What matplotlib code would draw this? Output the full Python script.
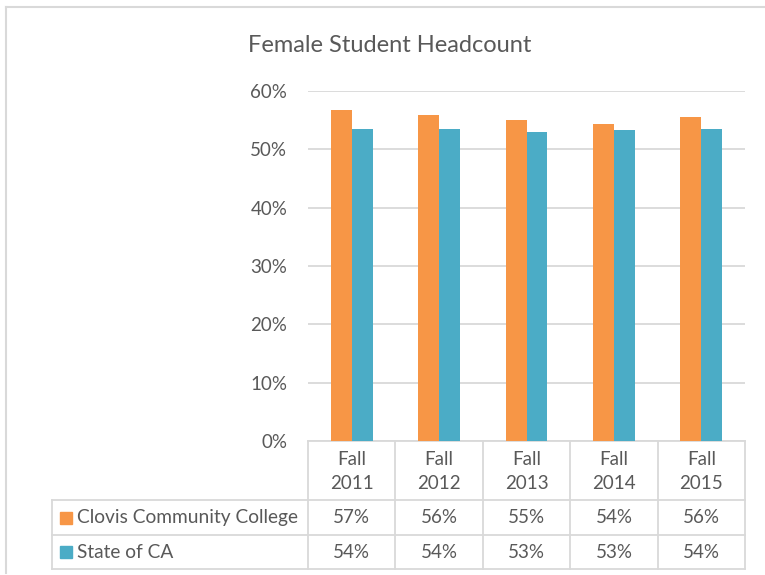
import matplotlib.pyplot as plt
from matplotlib.lines import Line2D
from matplotlib.patches import Rectangle
import numpy as np

plt.rcParams['font.family'] = ['Lato', 'DejaVu Sans']

# data
categories = ['Fall\n2011', 'Fall\n2012', 'Fall\n2013', 'Fall\n2014', 'Fall\n2015']
series_names = ['Clovis Community College', 'State of CA']
clovis = [0.567, 0.559, 0.550, 0.543, 0.555]
state_ca = [0.535, 0.534, 0.530, 0.533, 0.535]
clovis_labels = ['57%', '56%', '55%', '54%', '56%']
state_labels = ['54%', '54%', '53%', '53%', '54%']
yticks = [0, 0.1, 0.2, 0.3, 0.4, 0.5, 0.6]

colors = ['#F79646', '#4BACC6']
txt = '#595959'
grid = '#D9D9D9'

W, H = 765, 575
fig = plt.figure(figsize=(W / 100, H / 100), dpi=100)

# axes in pixel positions
x0, x1, ytop, ybot = 308, 745, 91, 441
ax = fig.add_axes([x0 / W, 1 - ybot / H, (x1 - x0) / W, (ybot - ytop) / H])

x = np.arange(len(categories))
bw = 0.24
ax.bar(x - bw / 2, clovis, bw, color=colors[0], zorder=3)
ax.bar(x + bw / 2, state_ca, bw, color=colors[1], zorder=3)

ax.set_xlim(-0.5, len(categories) - 0.5)
ax.set_ylim(0, 0.6)
ax.set_yticks(yticks)
ax.set_yticklabels(['{:.0f}%'.format(v * 100) for v in yticks], color=txt, fontsize=13.5)
ax.tick_params(axis='y', length=0, pad=15)
ax.set_xticks([])
ax.grid(axis='y', color=grid, linewidth=1.3, zorder=0)
for s in ['top', 'left', 'right']:
    ax.spines[s].set_visible(False)
ax.spines['bottom'].set_color(grid)
ax.spines['bottom'].set_linewidth(1.3)

fig.text(390 / W, 1 - 45 / H, 'Female Student Headcount',
         ha='center', va='center', fontsize=17, color=txt)

# data table below the plot (pixel rows)
px = lambda v: v / W
py = lambda v: 1 - v / H
row_y = [441, 500, 535, 569]
lab_left = 52
col_edges = [x0 + (x1 - x0) * i / len(categories) for i in range(len(categories) + 1)]

lw = 1.3
for yy in row_y[1:]:
    fig.add_artist(Line2D([px(lab_left), px(x1)], [py(yy), py(yy)], color=grid, lw=lw))
for i, xe in enumerate(col_edges):
    fig.add_artist(Line2D([px(xe), px(xe)], [py(row_y[0]), py(row_y[-1])], color=grid, lw=lw))
fig.add_artist(Line2D([px(lab_left), px(lab_left)], [py(row_y[1]), py(row_y[-1])], color=grid, lw=lw))

centers = [(col_edges[i] + col_edges[i + 1]) / 2 for i in range(len(categories))]
for i, c in enumerate(categories):
    fig.text(px(centers[i]), py((row_y[0] + row_y[1]) / 2 + 1), c, ha='center', va='center',
             fontsize=13.5, color=txt, linespacing=1.5)
    fig.text(px(centers[i]), py((row_y[1] + row_y[2]) / 2), clovis_labels[i], ha='center',
             va='center', fontsize=13.5, color=txt)
    fig.text(px(centers[i]), py((row_y[2] + row_y[3]) / 2), state_labels[i], ha='center',
             va='center', fontsize=13.5, color=txt)

for k, name in enumerate(series_names):
    yc = (row_y[k + 1] + row_y[k + 2]) / 2
    fig.add_artist(Rectangle((px(60), py(yc + 6)), 12 / W, 12 / H, color=colors[k]))
    fig.text(px(77), py(yc), name, ha='left', va='center', fontsize=13.8, color=txt)

# outer chart border (top and left visible)
fig.add_artist(Line2D([px(6), px(W)], [py(7), py(7)], color=grid, lw=1.5))
fig.add_artist(Line2D([px(6), px(6)], [py(7), py(573)], color=grid, lw=1.5))

fig.savefig('out.png', dpi=100)
